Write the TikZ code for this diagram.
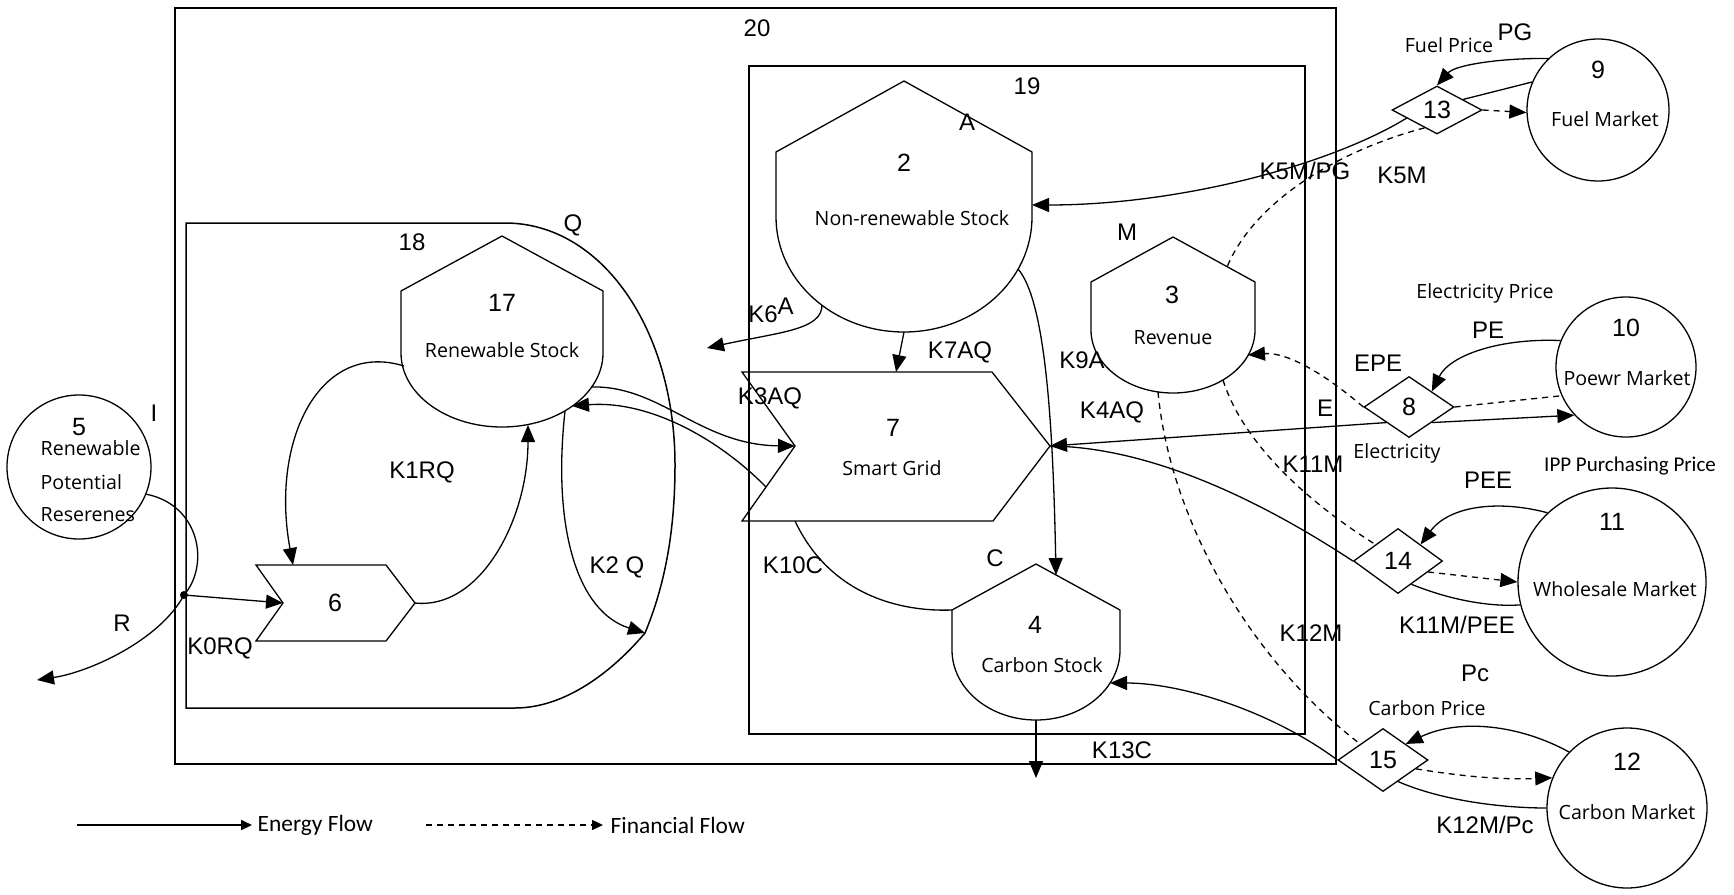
\documentclass[tikz,border=0pt]{standalone}
\usepackage{fontspec}
\setmainfont{Liberation Sans}
\newfontfamily\descfont{Open Sans}
\newfontfamily\calfont{Carlito}
\usetikzlibrary{arrows.meta,shapes.geometric}
\newcommand\shieldpath[7]{%
  \draw[nodeline] (#2-#3,#6) -- (#2-#3,#5) -- (#2,#4) -- (#2+#3,#5) -- (#2+#3,#6)
    arc[start angle=0,end angle=180,x radius=#3,y radius=#7-#6] -- cycle;
  \coordinate (#1) at (#2,#6);}
\begin{document}
\begin{tikzpicture}[x=0.5pt,y=-0.5pt,line width=0.65pt,
  nodeline/.style={line width=0.65pt},
  boxline/.style={line width=0.95pt},
  lbl/.style={inner sep=0pt,font=\fontsize{12}{14}\selectfont},
  num/.style={inner sep=0pt,font=\fontsize{12.5}{14}\selectfont},
  desc/.style={inner sep=0pt,font=\descfont\fontsize{9.8}{12}\selectfont},
  legend/.style={inner sep=0pt,font=\calfont\fontsize{11.7}{13}\selectfont},
  arr/.style={-{Triangle[length=8.5pt,width=7pt]}},
  fin/.style={dash pattern=on 3pt off 2.5pt},
  mkt/.style={draw,circle,inner sep=0pt,line width=0.65pt},
  dia/.style={draw,diamond,aspect=2,inner sep=0pt,line width=0.65pt,font=\fontsize{12.5}{14}\selectfont},
]
\useasboundingbox (0,0) rectangle (1734,894);

% ---------- boxes ----------
\draw[boxline] (175,8) rectangle (1336,764);
\draw[boxline] (749,66) rectangle (1305,734);
\coordinate (k2qtip) at (645,633);
\draw[line width=0.75pt] (k2qtip) .. controls (612,672) and (565,708) .. (515,708) -- (186,708) -- (186,223) -- (505,223)
  .. controls (602,223) and (675,330) .. (675,465) .. controls (675,540) and (662,592) .. (k2qtip);
\node[lbl] (t20) at (757,28) {20};
\node[lbl] (t19) at (1027,86) {19};
\node[lbl] (t18) at (412,242) {18};
\node[lbl] (tQ) at (573,225) {Q};

% ---------- stock shapes ----------
\shieldpath{n17}{502}{101}{236}{291}{353}{427}
\shieldpath{n2}{904}{128}{81}{152}{217}{332}
\shieldpath{n3}{1173}{82}{237}{282}{330}{393}
\shieldpath{n4}{1036}{84}{564}{610}{650}{720}

% ---------- chevrons ----------
\draw[nodeline] (742,372) -- (992,372) -- (1050,446) coordinate (n7tip) -- (993,521) -- (742,521) -- (795,446) coordinate (n7notch) -- cycle;
\draw[nodeline] (256,565) -- (386,565) -- (415,603) coordinate (n6tip) -- (386,641) -- (256,641) -- (283,603) coordinate (n6notch) -- cycle;

% ---------- contact points ----------
\coordinate (n17w) at (404,366);
\coordinate (n17b) at (528,425);
\coordinate (n17k2) at (565,411);
\coordinate (n17in) at (572,406);
\coordinate (n17r) at (591,387);
\coordinate (n2e) at (1032,205);
\coordinate (n2sw) at (822,305);
\coordinate (n2s) at (904,332);
\coordinate (n2se) at (1018,269);
\coordinate (n3ne) at (1227,267);
\coordinate (n3e) at (1248,355);
\coordinate (n3s1) at (1158,392);
\coordinate (n3s2) at (1223,380);
\coordinate (n4ne) at (1056,575);
\coordinate (n4w) at (952,610);
\coordinate (n4e) at (1110,683);
\coordinate (n4s) at (1036,720);
\coordinate (n7n) at (896,372);
\coordinate (n7s) at (795,521);
\coordinate (n7lw) at (766,487);
\coordinate (n6n) at (293,565);
\coordinate (jn) at (184,595);
\coordinate (rend) at (37,680);
\coordinate (k6end) at (707,348);
\coordinate (k13end) at (1036,778);

% ---------- markets ----------
\node[mkt,minimum size=72pt] (n5) at (79,467) {};
\node[mkt,minimum size=71pt] (n9) at (1598,110) {};
\node[mkt,minimum size=70pt] (n10) at (1626,367) {};
\node[mkt,minimum size=94pt] (n11) at (1612,582) {};
\node[mkt,minimum size=80pt] (n12) at (1627,808) {};

% ---------- diamonds ----------
\node[dia,minimum width=45pt,minimum height=24pt] (n13) at (1437,110) {13};
\node[dia,minimum width=45pt,minimum height=30.5pt] (n8) at (1409,407) {8};
\node[dia,minimum width=44.5pt,minimum height=32.5pt] (n14) at (1398,561) {14};
\node[dia,minimum width=45pt,minimum height=31.5pt] (n15) at (1383,760) {15};

% ---------- node texts ----------
\node[num] (t5) at (79,427) {5};
\node[desc,anchor=west] (t5a) at (40,448) {Renewable};
\node[desc,anchor=west] (t5b) at (40,482) {Potential};
\node[desc,anchor=west] (t5c) at (40,515) {Reserenes};
\node[num] (t6) at (335,603) {6};
\node[num] (t17) at (502,303) {17};
\node[desc] (t17d) at (502,350) {Renewable Stock};
\node[num] (t2) at (904,163) {2};
\node[desc] (t2d) at (912,218) {Non-renewable Stock};
\node[num] (t3) at (1172,295) {3};
\node[desc] (t3d) at (1173,338) {Revenue};
\node[num] (t4) at (1035,625) {4};
\node[desc] (t4d) at (1042,665) {Carbon Stock};
\node[num] (t7) at (893,428) {7};
\node[desc] (t7d) at (892,468) {Smart Grid};
\node[num] (t9) at (1598,70) {9};
\node[desc] (t9d) at (1605,119) {Fuel Market};
\node[num] (t10) at (1626,328) {10};
\node[desc] (t10d) at (1627,378) {Poewr Market};
\node[num] (t11) at (1612,522) {11};
\node[desc] (t11d) at (1615,589) {Wholesale Market};
\node[num] (t12) at (1627,762) {12};
\node[desc] (t12d) at (1627,812) {Carbon Market};
\node[desc] (tfp) at (1449,45) {Fuel Price};
\node[desc] (tep) at (1485,293) {Electricity Price};
\node[desc] (tel) at (1397,453) {Electricity};
\node[desc] (tcp) at (1427,708) {Carbon Price};
\node[inner sep=0pt,font=\calfont\fontsize{10.5}{12}\selectfont] (tipp) at (1630,466) {IPP Purchasing Price};

% ---------- left side flows ----------
\draw (n5.-22) .. controls (200,505) and (210,565) .. (jn);
\draw[arr] (jn) .. controls (160,640) and (90,672) .. (rend);
\fill (jn) circle[radius=4];
\draw[arr] (jn) -- (n6notch);
\draw[arr] (n17w) .. controls (320,340) and (270,440) .. (n6n);
\draw[arr] (n6tip) .. controls (480,610) and (528,520) .. (n17b);
\draw[arr] (n17k2) .. controls (552,530) and (578,612) .. (k2qtip);
\draw[arr] (n17r) .. controls (660,385) and (700,445) .. (n7notch);
\draw[arr] (n7lw) .. controls (720,440) and (650,400) .. (n17in);
\node[lbl] (tI) at (154,413) {I};
\node[lbl] (tR) at (122,623) {R};
\node[lbl] (tK0) at (220,648) {K0RQ};
\node[lbl] (tK1) at (422,472) {K1RQ};
\node[lbl] (tK2) at (617,567) {K2 Q};
\node[lbl] (tK3) at (770,398) {K3AQ};

% ---------- inner flows ----------
\draw[arr] (n2sw) .. controls (822,330) and (780,332) .. (k6end);
\draw[arr] (n2s) -- (n7n);
\draw[arr] (n2se) .. controls (1045,300) and (1053,420) .. (n4ne);
\draw (n7s) .. controls (830,595) and (900,612) .. (n4w);
\draw[arr] (n4s) -- (k13end);
\node[lbl] (tK6) at (771,310) {K6\raisebox{4pt}{A}};
\node[lbl] (tA) at (967,122) {A};
\node[lbl] (tK7) at (960,352) {K7AQ};
\node[lbl] (tK9) at (1082,360) {K9A};
\node[lbl] (tM) at (1127,232) {M};
\node[lbl] (tC) at (995,558) {C};
\node[lbl] (tK10) at (793,565) {K10C};
\node[lbl] (tK13) at (1122,750) {K13C};

% ---------- fuel market ----------
\draw[arr] (n9.134) .. controls (1500,58) and (1455,65) .. (n13.north);
\draw (n9.157) -- (n13.22);
\draw[fin,arr] (n13.east) -- (n9.182);
\draw[arr] (n13.195) .. controls (1330,165) and (1180,205) .. (n2e);
\draw[fin] (n13.235) .. controls (1340,150) and (1255,200) .. (n3ne);
\node[lbl] (tPG) at (1515,32) {PG};
\node[lbl] (tK5PG) at (1305,171) {K5M/PG};
\node[lbl] (tK5) at (1402,175) {K5M};

% ---------- power market ----------
\draw[arr] (n10.158) .. controls (1500,338) and (1450,355) .. (n8.north east);
\draw[fin] (n8.east) -- (n10.204);
\draw[arr] (n8.south east) -- (n10.223);
\draw[arr] (n8.south west) -- (n7tip);
\draw[fin,arr] (n8.west) .. controls (1320,370) and (1285,352) .. (n3e);
\node[lbl] (tPE) at (1488,330) {PE};
\node[lbl] (tEPE) at (1378,363) {EPE};
\node[lbl] (tE) at (1325,408) {E};
\node[lbl] (tK4) at (1112,412) {K4AQ};

% ---------- wholesale market ----------
\draw[arr] (n11.133) .. controls (1500,500) and (1450,505) .. (n14.north east);
\draw[fin,arr] (n14.-20) -- (n11.180);
\draw (n14.-60) .. controls (1450,600) and (1490,607) .. (n11.194);
\draw (n7tip) .. controls (1150,447) and (1260,500) .. (n14.west);
\draw[fin] (n3s2) .. controls (1245,450) and (1320,510) .. (n14.north west);
\node[lbl] (tPEE) at (1488,480) {PEE};
\node[lbl] (tK11) at (1313,464) {K11M};
\node[lbl] (tK11P) at (1457,625) {K11M/PEE};

% ---------- carbon market ----------
\draw[arr] (n12.136) .. controls (1520,725) and (1460,718) .. (n15.north east);
\draw[fin,arr] (n15.-15) .. controls (1460,776) and (1500,780) .. (n12.158);
\draw (n15.-55) .. controls (1440,800) and (1500,808) .. (n12.180);
\draw[arr] (n15.west) .. controls (1270,710) and (1180,683) .. (n4e);
\draw[fin] (n3s1) .. controls (1170,520) and (1250,660) .. (n15.north west);
\node[lbl] (tPc) at (1475,673) {Pc};
\node[lbl] (tK12) at (1311,633) {K12M};
\node[lbl] (tK12P) at (1485,825) {K12M/Pc};

% ---------- legend ----------
\coordinate (lgA1) at (77,825);
\coordinate (lgA2) at (252,825);
\draw[line width=1.1pt,-{Triangle[length=5.5pt,width=5pt]}] (lgA1) -- (lgA2);
\node[legend,anchor=west] (lgE) at (257,825) {Energy Flow};
\coordinate (lgB1) at (426,825);
\coordinate (lgB2) at (603,825);
\draw[fin,-{Triangle[length=5.5pt,width=5pt]}] (lgB1) -- (lgB2);
\node[legend,anchor=west] (lgF) at (610,825) {Financial Flow};
\end{tikzpicture}
\end{document}
